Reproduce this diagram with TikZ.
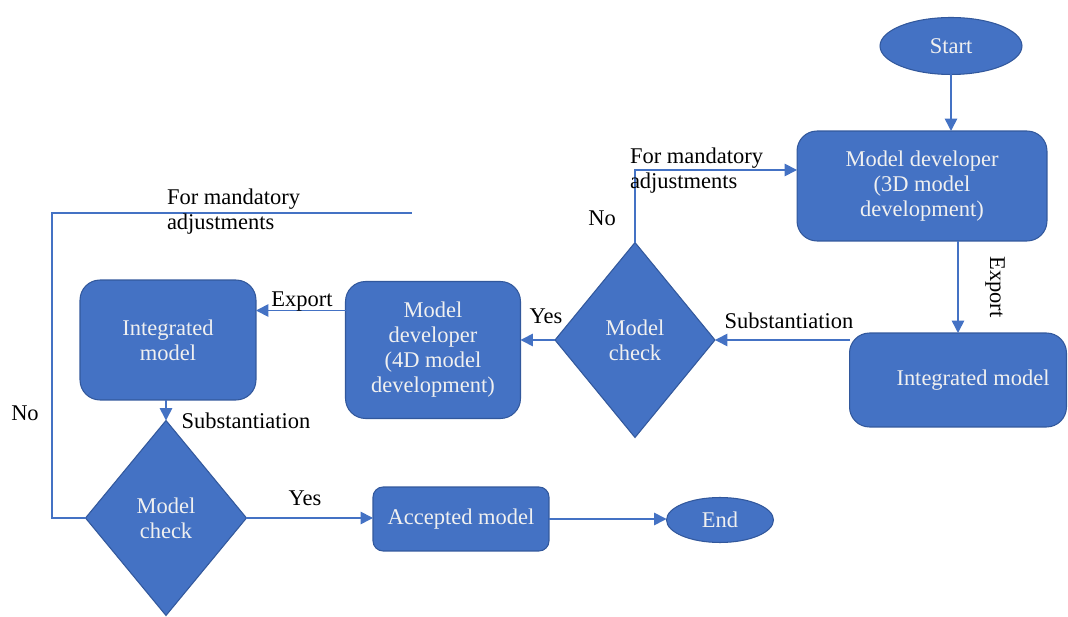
\documentclass[tikz,border=0pt]{standalone}
\usepackage{fontspec}
\setmainfont{Liberation Serif}
\usetikzlibrary{shapes.geometric,arrows.meta}

\definecolor{fcblue}{RGB}{68,114,196}
\definecolor{fcedge}{RGB}{50,88,156}
\definecolor{fctext}{RGB}{240,240,240}
\definecolor{fcline}{RGB}{68,114,196}

\begin{document}
\begin{tikzpicture}[
  x=0.02cm,
  y=-0.02cm,
  every node/.style={inner sep=0pt, outer sep=0pt},
  note/.style={font=\fontsize{12.8}{14.2}\selectfont, text=black, align=center},
  stepbox/.style={draw=fcedge, fill=fcblue, rounded corners=0.4cm, line width=0.6pt,
    font=\fontsize{12.8}{14.2}\selectfont, text=fctext, align=center},
  terminal/.style={ellipse, draw=fcedge, fill=fcblue, line width=0.6pt,
    font=\fontsize{12.8}{14.2}\selectfont, text=fctext, align=center},
  decision/.style={diamond, draw=fcedge, fill=fcblue, line width=0.6pt,
    minimum width=3.2cm, minimum height=3.9cm,
    font=\fontsize{12.8}{14.2}\selectfont, text=fctext, align=center},
  flow/.style={draw=fcline, line width=0.9pt, -{Triangle[length=7pt,width=7pt]}},
  loopline/.style={draw=fcline, line width=0.9pt}
]

  \path[use as bounding box] (0,0) rectangle (1068,617);

  % Top right: start and 3D development
  \node[terminal, minimum width=2.84cm, minimum height=1.14cm] (start) at (951,46) {Start};
  \node[stepbox, minimum width=5cm, minimum height=2.2cm] (dev3d) at (922,186)
    {Model developer\\(3D model\\development)};
  \node[stepbox, minimum width=4.34cm, minimum height=1.88cm] (integR) at (958,380)
    {\hspace{0.6cm}Integrated model};
  \node[decision] (check1) at (635,340) {Model\\check};

  % Middle: 4D development
  \node[stepbox, minimum width=3.5cm, minimum height=2.74cm] (dev4d) at (433,350)
    {Model\\developer\\(4D model\\development)};
  \node[stepbox, minimum width=3.52cm, minimum height=2.4cm] (integL) at (168,340)
    {Integrated\\model};
  \node[decision, minimum width=3.22cm] (check2) at (166,518) {Model\\check};

  % Bottom: acceptance
  \node[stepbox, rounded corners=0.2cm, minimum width=3.52cm, minimum height=1.28cm]
    (accepted) at (461,519) {Accepted model};
  \node[terminal, minimum width=2.14cm, minimum height=0.9cm] (endnode) at (720,520) {End};

  % Free ends of the return line
  \coordinate (loopcorner) at (52,213);
  \coordinate (loopend) at (412,213);

  % Connectors
  \draw[flow] (start.south -| start) -- (start |- dev3d.north);
  \draw[flow] (dev3d.south -| integR.north) -- (integR.north);
  \draw[flow] (integR.west |- check1.east) -- (check1.east);
  \draw[flow] (check1.north) |- ([yshift=0.32cm]dev3d.west);
  \draw[flow] (check1.west) -- (check1.west -| dev4d.east);
  \draw[flow] ([yshift=0.79cm]dev4d.west) -- ([yshift=0.79cm]dev4d.west -| integL.east);
  \draw[flow] (integL.south -| check2.north) -- (check2.north);
  \draw[flow] (check2.east) -- (check2.east -| accepted.west);
  \draw[flow] (accepted.east) -- (accepted.east -| endnode.west);
  \draw[loopline] (check2.west) -| (loopcorner) -- (loopend);

  % Labels
  \node[note, anchor=west, align=left] (adj1) at (630,171) {For mandatory\\adjustments};
  \node[note] (no1) at (602,218) {No};
  \node[note] (yes1) at (546,316) {Yes};
  \node[note] (sub1) at (789,321) {Substantiation};
  \node[note, rotate=-90] (exp1) at (995,287) {Export};
  \node[note] (exp2) at (302,302) {Export};
  \node[note] (sub2) at (246,421) {Substantiation};
  \node[note] (no2) at (25,413) {No};
  \node[note, anchor=west, align=left] (adj2) at (167,212) {For mandatory\\adjustments};
  \node[note] (yes2) at (305,498) {Yes};

\end{tikzpicture}
\end{document}
